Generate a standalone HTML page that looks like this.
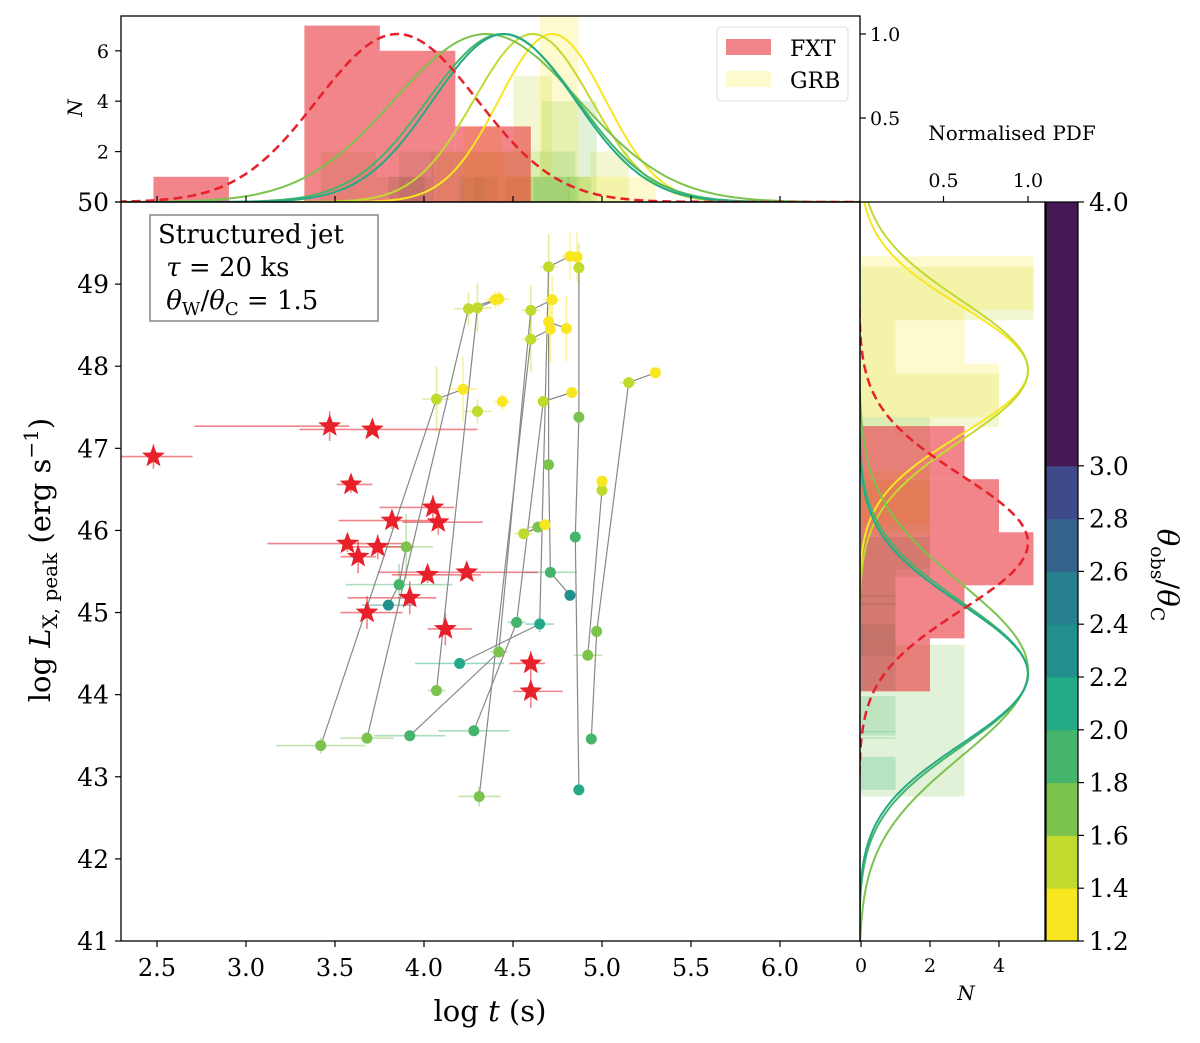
<!DOCTYPE html>
<html><head><meta charset="utf-8"><style>
body{margin:0;background:#fff}
svg{display:block;font-family:"DejaVu Serif","Liberation Serif",serif}
text{font-family:"DejaVu Serif","Liberation Serif",serif}
</style></head><body>
<svg id="fig" width="1200" height="1043" viewBox="0 0 1200 1043" xmlns="http://www.w3.org/2000/svg">
<g id="layer"></g>
</svg>
<script>
// ---------- data ----------
const fxtT   = [2.48,3.47,3.71,3.59,3.57,3.63,3.74,3.82,3.68,4.05,4.08,4.02,3.92,4.12,4.24,4.60,4.60];
const fxtL   = [46.90,47.27,47.23,46.56,45.84,45.68,45.80,46.12,45.00,46.28,46.10,45.46,45.18,44.80,45.49,44.38,44.04];
const fxtTlo = [0.18,0.76,0.41,0.08,0.45,0.10,0.20,0.30,0.15,0.30,0.20,0.20,0.35,0.10,0.50,0.12,0.10];
const fxtThi = [0.22,0.11,0.59,0.12,0.35,0.10,0.20,0.30,0.20,0.12,0.25,0.30,0.15,0.15,0.40,0.08,0.18];
const fxtLerr= [0.15,0.18,0.06,0.10,0.10,0.20,0.15,0.10,0.20,0.15,0.15,0.10,0.20,0.20,0.05,0.15,0.20];

const grbT = [3.42,3.68,3.92,4.28,4.31,4.87,4.94,4.92,4.97,3.80,3.86,3.90,4.07,4.20,4.42,4.52,4.65,4.71,4.82,4.56,4.64,4.68,4.85,4.87,4.70,4.67,4.83,5.00,5.00,4.07,4.22,4.30,4.44,4.25,4.30,4.40,4.42,4.60,4.72,4.60,4.71,4.70,4.70,4.82,4.86,4.87,5.15,5.30,4.80];
const grbL = [43.38,43.47,43.50,43.56,42.76,42.84,43.46,44.48,44.77,45.09,45.34,45.80,44.05,44.38,44.52,44.88,44.86,45.49,45.21,45.96,46.04,46.07,45.92,47.38,46.80,47.57,47.68,46.49,46.60,47.60,47.72,47.45,47.57,48.70,48.71,48.81,48.82,48.68,48.81,48.33,48.45,48.54,49.21,49.34,49.33,49.20,47.80,47.92,48.46];
const grbTh= [1.7,1.7,1.9,1.8,1.7,2.1,1.8,1.7,1.7,2.2,1.9,1.7,1.7,2.1,1.7,1.9,2.1,1.9,2.2,1.5,1.7,1.3,1.9,1.7,1.7,1.5,1.3,1.5,1.3,1.5,1.3,1.5,1.3,1.5,1.5,1.3,1.3,1.5,1.3,1.5,1.3,1.3,1.5,1.3,1.3,1.5,1.5,1.3,1.3];
const grbTerr=[0.25,0.15,0.20,0.20,0.12,0.03,0.03,0.08,0.03,0.15,0.30,0.15,0.05,0.25,0.05,0.05,0.08,0.15,0.03,0.05,0.05,0.03,0.03,0.03,0.03,0.03,0.03,0.03,0.03,0.08,0.08,0.08,0.05,0.08,0.08,0.06,0.06,0.05,0.05,0.05,0.03,0.03,0.05,0.05,0.03,0.03,0.05,0.03,0.03];
const grbLerr=[0.10,0.05,0.05,0.05,0.12,0.05,0.05,0.05,0.05,0.05,0.25,0.40,0.05,0.05,0.05,0.05,0.10,0.05,0.05,0.05,0.05,0.05,0.05,0.05,0.05,0.05,0.05,0.05,0.05,0.40,0.40,0.15,0.10,0.20,0.30,0.10,0.10,0.30,0.30,0.40,0.40,0.40,0.40,0.30,0.30,0.30,0.05,0.05,0.40];
const tracks = [[0,29,30],[1,33,35],[12,34,36],[9,10,11],[2,14,37,38],[3,15,25,26],[4,39,40],[13,16,42,43],[5,22,23,45,44],[6,8,46,47],[7,27,28],[18,17,24,41,48],[20,19,21]];

// PDF curves: theta, mean, sigma
const pdfTheta = [1.3,1.5,1.7,1.9,2.1];
const pdfTmean = [4.72,4.61,4.35,4.44,4.45];
const pdfTsig  = [0.30,0.33,0.52,0.42,0.40];
const pdfLmean = [47.95,47.95,44.30,44.25,44.25];
const pdfLsig  = [0.78,0.85,1.05,0.88,0.85];
const fxtPdfT = [3.85,0.45];
const fxtPdfL = [45.85,0.82];

const cbTicks = [1.2,1.4,1.6,1.8,2.0,2.2,2.4,2.6,2.8,3.0,4.0];
const cbColors= ["#f8e621","#c2da2e","#7cc34e","#45b56c","#22ab86","#21908c","#27808e","#34628d","#3e4a89","#461954"];

// ---------- axes ----------
const X=t=>157+(t-2.5)*178;
const Y=l=>202+(50-l)*82.11;
const HY=n=>202-n*25.2;
const PY=p=>202-p*168;
const HX=n=>861+n*34.5;
const PX=p=>859+p*169;
const CY=v=> v<=3 ? 941-(v-1.2)/0.2*52.8 : 466-(v-3)*264;
const colorOf=th=>{let i=Math.floor((th-1.2)/0.2+1e-6);i=Math.max(0,Math.min(9,i));return cbColors[i];};

const NS="http://www.w3.org/2000/svg";
const L=document.getElementById('layer');
function mk(tag,attrs,parent){const e=document.createElementNS(NS,tag);for(const k in attrs)e.setAttribute(k,attrs[k]);(parent||L).appendChild(e);return e;}
function txt(s,x,y,size,anchor,parent,extra){const e=mk('text',Object.assign({x:x,y:y,'font-size':size,'text-anchor':anchor||'middle',fill:'#000','font-family':'DejaVu Serif, Liberation Serif, serif'},extra||{}),parent);e.innerHTML=s;return e;}

const defs=mk('defs',{});
const c1=mk('clipPath',{id:'cMain'},defs);mk('rect',{x:121,y:202,width:739,height:739},c1);
const c2=mk('clipPath',{id:'cTop'},defs);mk('rect',{x:121,y:16,width:739,height:186},c2);
const c3=mk('clipPath',{id:'cRight'},defs);mk('rect',{x:860,y:202,width:185,height:739},c3);

function hist(vals,nb){const lo=Math.min(...vals),hi=Math.max(...vals);const w=(hi-lo)/nb||0.2;const c=new Array(nb).fill(0);vals.forEach(v=>{let i=Math.floor((v-lo)/w);if(i>=nb)i=nb-1;c[i]++;});return {lo:lo,w:w,c:c};}

// ---------- top histogram ----------
const gTop=mk('g',{'clip-path':'url(#cTop)'});


const groups=[...new Set(grbTh)];
groups.forEach(th=>{
  const vt=grbT.filter((_,i)=>grbTh[i]===th);
  const h=hist(vt,5);
  h.c.forEach((n,i)=>{if(!n)return;const r=mk('rect',{x:X(h.lo+i*h.w),y:HY(n),width:X(h.lo+(i+1)*h.w)-X(h.lo+i*h.w),height:202-HY(n),fill:colorOf(th),'fill-opacity':0.22},gTop);
    
    });
});
{const h=hist(fxtT,5);h.c.forEach((n,i)=>{if(!n)return;const r=mk('rect',{x:X(h.lo+i*h.w),y:HY(n),width:X(h.lo+(i+1)*h.w)-X(h.lo+i*h.w),height:202-HY(n),fill:'#e8202a','fill-opacity':0.55},gTop);
  
  });}
function gaussPath(fx,fy,m,s,lo,hi,horiz){let d='';for(let k=0;k<=200;k++){const v=lo+(hi-lo)*k/200;const p=Math.exp(-0.5*((v-m)/s)**2);const a=horiz?[fx(p),fy(v)]:[fx(v),fy(p)];d+=(k?'L':'M')+a[0].toFixed(1)+','+a[1].toFixed(1);}return d;}
pdfTheta.forEach((th,i)=>{const p=mk('path',{d:gaussPath(X,PY,pdfTmean[i],pdfTsig[i],2.2,6.5,false),fill:'none',stroke:colorOf(th),'stroke-width':2},gTop);
  
  });
{const p=mk('path',{d:gaussPath(X,PY,fxtPdfT[0],fxtPdfT[1],2.2,6.5,false),fill:'none',stroke:'#e8202a','stroke-width':2.5,'stroke-dasharray':'9,5'},gTop);
 
 }

// ---------- right histogram ----------
const gR=mk('g',{'clip-path':'url(#cRight)'});


groups.forEach(th=>{
  const vl=grbL.filter((_,i)=>grbTh[i]===th);
  const h=hist(vl,5);
  h.c.forEach((n,i)=>{if(!n)return;const r=mk('rect',{x:861,y:Y(h.lo+(i+1)*h.w),width:HX(n)-861,height:Y(h.lo+i*h.w)-Y(h.lo+(i+1)*h.w),fill:colorOf(th),'fill-opacity':0.22},gR);
    
    });
});
{const h=hist(fxtL,5);h.c.forEach((n,i)=>{if(!n)return;const r=mk('rect',{x:861,y:Y(h.lo+(i+1)*h.w),width:HX(n)-861,height:Y(h.lo+i*h.w)-Y(h.lo+(i+1)*h.w),fill:'#e8202a','fill-opacity':0.55},gR);
  
  });}
pdfTheta.forEach((th,i)=>{const p=mk('path',{d:gaussPath(PX,Y,pdfLmean[i],pdfLsig[i],40.8,50.2,true),fill:'none',stroke:colorOf(th),'stroke-width':2},gR);
  
  });
{const p=mk('path',{d:gaussPath(PX,Y,fxtPdfL[0],fxtPdfL[1],40.8,50.2,true),fill:'none',stroke:'#e8202a','stroke-width':2.5,'stroke-dasharray':'9,5'},gR);
 
 }

// ---------- main scatter ----------
const gM=mk('g',{'clip-path':'url(#cMain)'});


grbT.forEach((t,i)=>{const c=colorOf(grbTh[i]);
  const e1=mk('line',{x1:X(t-grbTerr[i]),x2:X(t+grbTerr[i]),y1:Y(grbL[i]),y2:Y(grbL[i]),stroke:c,'stroke-opacity':0.45,'stroke-width':1.6},gM);
  
  
  const e2=mk('line',{x1:X(t),x2:X(t),y1:Y(grbL[i]-grbLerr[i]),y2:Y(grbL[i]+grbLerr[i]),stroke:c,'stroke-opacity':0.45,'stroke-width':1.6},gM);
  
  });
fxtT.forEach((t,i)=>{
  const e1=mk('line',{x1:X(t-fxtTlo[i]),x2:X(t+fxtThi[i]),y1:Y(fxtL[i]),y2:Y(fxtL[i]),stroke:'#e8202a','stroke-opacity':0.55,'stroke-width':1.6},gM);
  
  
  const e2=mk('line',{x1:X(t),x2:X(t),y1:Y(fxtL[i]-fxtLerr[i]),y2:Y(fxtL[i]+fxtLerr[i]),stroke:'#e8202a','stroke-opacity':0.55,'stroke-width':1.6},gM);
  
  });
tracks.forEach(tr=>{const p=mk('polyline',{points:tr.map(i=>X(grbT[i]).toFixed(1)+','+Y(grbL[i]).toFixed(1)).join(' '),fill:'none',stroke:'#888','stroke-width':1.2},gM);
  
  });
grbT.forEach((t,i)=>{const c=mk('circle',{cx:X(t),cy:Y(grbL[i]),r:5.5,fill:colorOf(grbTh[i])},gM);
  
  });
function starPts(cx,cy,R){const r=R*0.42;let s=[];for(let k=0;k<10;k++){const a=-Math.PI/2+k*Math.PI/5;const rr=k%2?r:R;s.push((cx+rr*Math.cos(a)).toFixed(1)+','+(cy+rr*Math.sin(a)).toFixed(1));}return s.join(' ');}
fxtT.forEach((t,i)=>{const s=mk('polygon',{points:starPts(X(t),Y(fxtL[i]),12),fill:'#e8202a'},gM);
  
  });

// ---------- frames & ticks ----------
function frame(x,y,w,h,name){const r=mk('rect',{x:x,y:y,width:w,height:h,fill:'none',stroke:'#000','stroke-width':1.3});}
frame(121,202,739,739,'main-axes-frame');
frame(121,16,739,186,'top-axes-frame');
frame(860,202,185,739,'right-axes-frame');

const xTicks=[2.5,3.0,3.5,4.0,4.5,5.0,5.5,6.0];
xTicks.forEach(v=>{mk('line',{x1:X(v),x2:X(v),y1:941,y2:947,stroke:'#000','stroke-width':1.2});mk('line',{x1:X(v),x2:X(v),y1:202,y2:196,stroke:'#000','stroke-width':1.2});
  const t=txt(v.toFixed(1),X(v),976,24);});
const yTicks=[41,42,43,44,45,46,47,48,49,50];
yTicks.forEach(v=>{mk('line',{x1:121,x2:115,y1:Y(v),y2:Y(v),stroke:'#000','stroke-width':1.2});
  const t=txt(String(v),109,Y(v)+9,25,'end');});
const topCounts=[0,2,4,6];
topCounts.forEach(v=>{mk('line',{x1:121,x2:115,y1:HY(v),y2:HY(v),stroke:'#000','stroke-width':1.2});
  if(v>0){const t=txt(String(v),109,HY(v)+7,19,'end');}});
const pdfTicks=[0.5,1.0];
pdfTicks.forEach(v=>{mk('line',{x1:860,x2:866,y1:PY(v),y2:PY(v),stroke:'#000','stroke-width':1.2});
  const t=txt(v.toFixed(1),870,PY(v)+7,19,'start');
  mk('line',{x1:PX(v),x2:PX(v),y1:202,y2:196,stroke:'#000','stroke-width':1.2});
  const t2=txt(v.toFixed(1),PX(v),187,19);});
const rCounts=[0,2,4];
rCounts.forEach(v=>{mk('line',{x1:HX(v),x2:HX(v),y1:941,y2:947,stroke:'#000','stroke-width':1.2});
  const t=txt(String(v),HX(v),972,19);});

{const t=txt('log <tspan font-style="italic">t</tspan> (s)',490,1021,29);}
{const t=txt('log <tspan font-style="italic">L</tspan><tspan font-size="20" dy="7">X, peak</tspan><tspan dy="-7"> (erg s</tspan><tspan font-size="20" dy="-12">−1</tspan><tspan dy="12">)</tspan>',0,0,29,'middle',null,{transform:'translate(50,560) rotate(-90)'});}
{const t=txt('N',0,0,20,'middle',null,{transform:'translate(82,108) rotate(-90)','font-style':'italic','font-family':'DejaVu Sans,sans-serif'});}
{const t=txt('N',966,1000,20,'middle',null,{'font-style':'italic','font-family':'DejaVu Sans,sans-serif'});}
{const t=txt('Normalised PDF',1012,140,20);}

{const g=mk('g',{});
 mk('rect',{x:150,y:215,width:228,height:106,fill:'#fff',stroke:'#888','stroke-width':1.5},g);
 txt('Structured jet',158,243,26,'start',g);
 txt('&#160;<tspan font-style="italic">τ</tspan> = 20 ks',158,276,26,'start',g);
 txt('&#160;<tspan font-style="italic">θ</tspan><tspan font-size="18" dy="6">W</tspan><tspan dy="-6">/</tspan><tspan font-style="italic">θ</tspan><tspan font-size="18" dy="6">C</tspan><tspan dy="-6"> = 1.5</tspan>',158,309,26,'start',g);}

{const g=mk('g',{});
 mk('rect',{x:717,y:27,width:131,height:74,rx:4,fill:'#fff','fill-opacity':0.85,stroke:'#ddd','stroke-width':1},g);
 const a=mk('rect',{x:726,y:39,width:45,height:16,fill:'#e8202a','fill-opacity':0.55},g);
 txt('FXT',790,56,22,'start',g);
 const b=mk('rect',{x:726,y:71,width:45,height:16,fill:'#f8e621','fill-opacity':0.22},g);
 txt('GRB',790,88,22,'start',g);}

{const g=mk('g',{});
 for(let i=0;i<cbColors.length;i++){const r=mk('rect',{x:1046,y:CY(cbTicks[i+1]),width:32,height:CY(cbTicks[i])-CY(cbTicks[i+1])+0.5,fill:cbColors[i]},g);
   
   }
 mk('rect',{x:1046,y:202,width:32,height:739,fill:'none',stroke:'#000','stroke-width':1.2},g);
 cbTicks.forEach(v=>{mk('line',{x1:1078,x2:1084,y1:CY(v),y2:CY(v),stroke:'#000','stroke-width':1.2},g);
   const t=txt(v.toFixed(1),1089,CY(v)+9,25,'start',g);});
 const t=txt('<tspan font-style="italic">θ</tspan><tspan font-size="19" dy="7">obs</tspan><tspan dy="-7">/</tspan><tspan font-style="italic">θ</tspan><tspan font-size="19" dy="7">C</tspan>',0,0,29,'middle',g,{transform:'translate(1158,575) rotate(90)'});
 }
</script>
</body></html>
